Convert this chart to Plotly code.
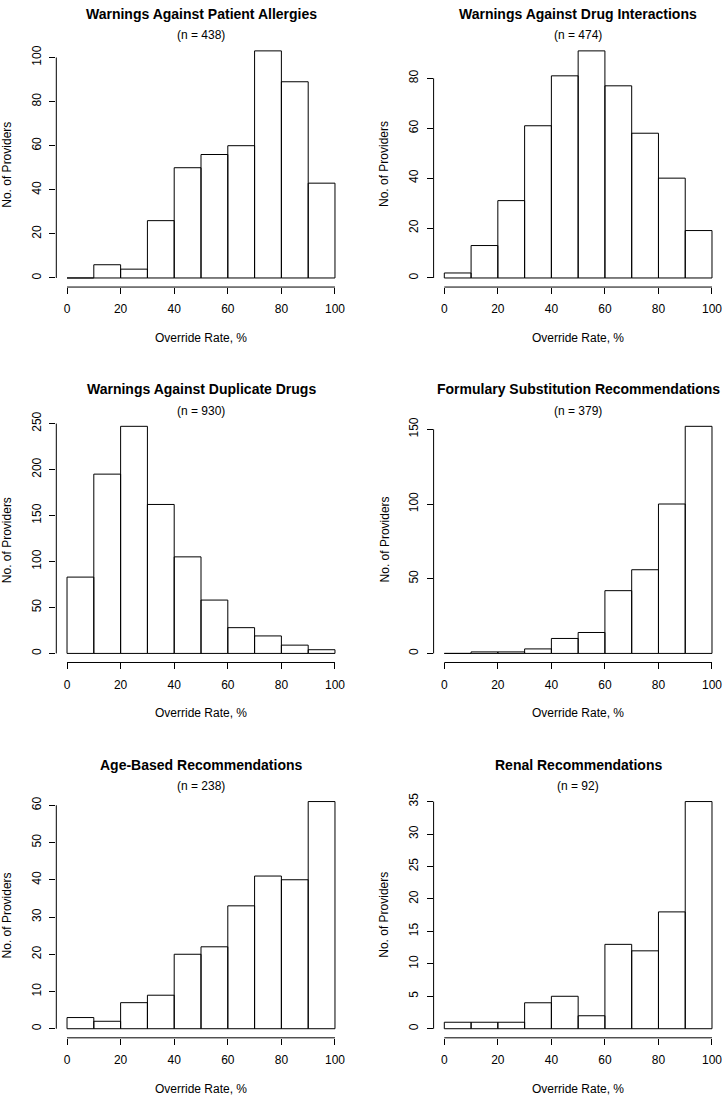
import plotly.graph_objects as go

# histogram bins (override rate, %)
bin_edges = [0, 10, 20, 30, 40, 50, 60, 70, 80, 90, 100]
x_ticks = [0, 20, 40, 60, 80, 100]

titles = [
    "Warnings Against Patient Allergies",
    "Warnings Against Drug Interactions",
    "Warnings Against Duplicate Drugs",
    "Formulary Substitution Recommendations",
    "Age-Based Recommendations",
    "Renal Recommendations",
]
sample_sizes = [438, 474, 930, 379, 238, 92]

# counts of providers per bin
allergies = [0, 6, 4, 26, 50, 56, 60, 103, 89, 43]
interactions = [2, 13, 31, 61, 81, 91, 77, 58, 40, 19]
duplicates = [83, 195, 247, 162, 105, 58, 28, 19, 9, 4]
formulary = [0, 1, 1, 3, 10, 14, 42, 56, 100, 152]
age_based = [3, 2, 7, 9, 20, 22, 33, 41, 40, 61]
renal = [1, 1, 1, 4, 5, 2, 13, 12, 18, 35]

y_ticks_allergies = [0, 20, 40, 60, 80, 100]
y_ticks_interactions = [0, 20, 40, 60, 80]
y_ticks_duplicates = [0, 50, 100, 150, 200, 250]
y_ticks_formulary = [0, 50, 100, 150]
y_ticks_age = [0, 10, 20, 30, 40, 50, 60]
y_ticks_renal = [0, 5, 10, 15, 20, 25, 30, 35]

all_counts = [allergies, interactions, duplicates, formulary, age_based, renal]
all_yticks = [y_ticks_allergies, y_ticks_interactions, y_ticks_duplicates,
              y_ticks_formulary, y_ticks_age, y_ticks_renal]

W, H = 724, 1096
FONT = "Liberation Sans, Arial, sans-serif"
INK = "black"

# plot regions in pixels (R-like layout)
col_px = [(56.3, 345.7), (433.6, 722.7)]
row_px = [(36.0, 282.6), (413.5, 660.1), (790.8, 1037.5)]


def px_x(v):
    return v / W


def px_y(v):
    return 1 - v / H


fig = go.Figure()
annotations = []
shapes = []

for i, counts in enumerate(all_counts):
    r, c = i // 2, i % 2
    n = i + 1
    xa = "x" if n == 1 else f"x{n}"
    ya = "y" if n == 1 else f"y{n}"
    left, right = col_px[c]
    top, bottom = row_px[r]

    # outline of each histogram bin (zero-count bins show as a flat line, like R)
    xs, ys = [], []
    for k, cnt in enumerate(counts):
        e0, e1 = bin_edges[k], bin_edges[k + 1]
        xs += [e0, e0, e1, e1, e0, None]
        ys += [0, cnt, cnt, 0, 0, None]
    fig.add_trace(go.Scatter(
        x=xs, y=ys, mode="lines", xaxis=xa, yaxis=ya,
        line=dict(color=INK, width=1), showlegend=False, hoverinfo="skip",
    ))

    ymax = max(counts)
    lo, hi = bin_edges[0], bin_edges[-1]
    span = hi - lo
    fig.update_layout(**{
        ("xaxis" if n == 1 else f"xaxis{n}"): dict(
            domain=[px_x(left), px_x(right)],
            anchor=ya, range=[lo - 0.04 * span, hi + 0.04 * span],
            tickvals=x_ticks, ticks="outside", ticklen=6, tickcolor=INK,
            showgrid=False, zeroline=False, showline=False,
            tickfont=dict(family=FONT, size=12, color=INK),
            ticklabelstandoff=5,
        ),
        ("yaxis" if n == 1 else f"yaxis{n}"): dict(
            domain=[px_y(bottom), px_y(top)],
            anchor=xa, range=[-0.04 * ymax, 1.04 * ymax],
            tickvals=all_yticks[i], ticks="outside", ticklen=6, tickcolor=INK,
            tickangle=-90,
            showgrid=False, zeroline=False, showline=False,
            tickfont=dict(family=FONT, size=12, color=INK),
            ticklabelstandoff=4,
        ),
    })

    # axis lines only spanning first..last tick, like base R
    shapes.append(dict(type="line", xref=xa, yref=f"{ya} domain",
                       x0=x_ticks[0], x1=x_ticks[-1], y0=0, y1=0,
                       line=dict(color=INK, width=1)))
    shapes.append(dict(type="line", xref=f"{xa} domain", yref=ya,
                       x0=0, x1=0, y0=all_yticks[i][0], y1=all_yticks[i][-1],
                       line=dict(color=INK, width=1)))

    cx = px_x((left + right) / 2)
    annotations.append(dict(text=f"<b>{titles[i]}</b>", x=cx, y=px_y(top - 28),
                            xref="paper", yref="paper", showarrow=False,
                            xanchor="center", yanchor="middle",
                            font=dict(family=FONT, size=14, color=INK)))
    annotations.append(dict(text=f"(n = {sample_sizes[i]})", x=cx, y=px_y(top - 6.4),
                            xref="paper", yref="paper", showarrow=False,
                            xanchor="center", yanchor="middle",
                            font=dict(family=FONT, size=12, color=INK)))
    annotations.append(dict(text="Override Rate, %", x=cx, y=px_y(bottom + 51),
                            xref="paper", yref="paper", showarrow=False,
                            xanchor="center", yanchor="middle",
                            font=dict(family=FONT, size=12, color=INK)))
    annotations.append(dict(text="No. of Providers", x=px_x(left - 49),
                            y=px_y((top + bottom) / 2),
                            xref="paper", yref="paper", showarrow=False,
                            xanchor="center", yanchor="middle", textangle=-90,
                            font=dict(family=FONT, size=12, color=INK)))

fig.update_layout(
    width=W, height=H,
    margin=dict(l=0, r=0, t=0, b=0),
    paper_bgcolor="white", plot_bgcolor="white",
    annotations=annotations, shapes=shapes,
    showlegend=False,
)

# drop the default page margin so the figure sits at the window's corner
fig.write_html("out.html", config={"displayModeBar": False},
               post_script="document.body.style.margin='0px';")
